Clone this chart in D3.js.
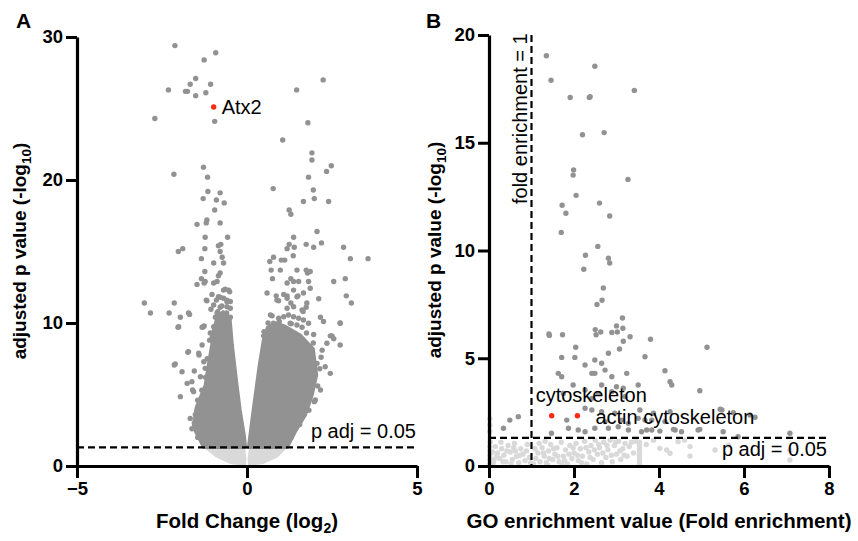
<!DOCTYPE html>
<html>
<head>
<meta charset="utf-8">
<script src="https://cdn.jsdelivr.net/npm/d3@7"></script>
<style>
  body { margin: 0; background: #fff; }
  svg text { font-family: "Liberation Sans", Arial, Helvetica, sans-serif; }
</style>
</head>
<body>
<div id="chart"></div>
<script>
// ---- panel A: volcano plot (fold change log2, -log10 adj p) ----
var volcanoTicksX = [-5, 0, 5];
var volcanoTicksY = [0, 10, 20, 30];

// individual significant proteins
var volcanoPoints = [
  [-2.12,29.4],[-0.92,28.9],[-1.26,28.4],[-1.51,27.1],[-1.67,26.7],[-1.07,26.7],[-2.31,26.3],[-1.81,26.2],[-1.75,26.2],[-1.21,26.1],[-1.51,25.9],[-2.71,24.3],[-0.95,24.1],
  [2.24,27.0],[1.46,26.3],[1.79,24.0],[1.05,22.8],[1.91,21.9],[1.91,21.4],[2.48,21.0],[2.34,20.6],[1.81,20.2],
  [-1.28,20.9],[-2.15,20.4],[-1.16,20.2],
  [0.77,19.4],[1.95,19.3],[1.98,18.7],[1.66,18.5],[2.40,18.5],[1.24,17.9],[1.29,17.6],[2.06,16.4],[1.37,16.0],[1.74,15.5],[1.96,15.3],[2.19,15.6],[1.24,15.5],[1.18,15.2],[1.39,15.3],[2.84,15.3],[3.04,14.5],[3.56,14.5],[0.78,14.6],[0.67,14.3],[1.01,14.4],[1.11,14.4],[1.36,14.7],
  [0.71,13.7],[0.98,13.7],[1.47,13.7],[1.74,13.7],[1.78,13.5],[1.86,13.6],[2.55,12.9],[2.89,13.1],[1.18,12.8],[1.29,13.1],[1.37,12.9],[1.52,12.9],[1.81,12.9],[0.75,13.1],
  [0.59,12.1],[0.86,11.9],[1.08,12.0],[1.18,11.9],[1.37,12.3],[1.50,11.9],[1.66,12.1],[0.88,11.6],[2.11,11.7],[2.92,11.9],[3.07,11.4],[1.76,11.4],[1.74,11.1],[1.65,10.8],[1.29,11.4],
  [2.16,10.4],[2.25,10.1],[2.74,10.0],[2.45,9.1],[2.55,8.9],[1.96,9.2],[1.62,9.7],[1.65,8.7],[0.74,10.5],[0.83,9.9],[0.71,9.1],[0.49,9.1],
  [0.93,11.56],[1.18,11.73],[1.47,11.84],[1.86,12.43],[1.62,10.91],[1.18,11.03],[1.37,11.14],[0.69,10.56],[0.78,9.98],[0.93,10.33],[1.08,10.44],[1.22,10.56],[1.37,10.44],[1.52,10.33],[1.66,10.21],[1.27,9.98],[1.47,9.86],[1.81,9.98],
  [-1.29,18.7],[-1.15,19.2],[-0.79,19.1],[-0.90,18.6],[-0.67,18.4],[-0.95,17.9],[-1.18,17.2],[-1.20,17.0],[-0.79,17.0],[-1.47,16.9],[-0.57,16.0],[-1.23,16.0],[-0.84,15.4],[-0.77,15.5],[-1.24,15.2],[-2.02,15.0],[-1.89,15.2],[-1.34,14.5],[-0.98,14.2],[-0.73,14.6],[-0.69,14.2],[-0.79,15.0],
  [-1.24,13.6],[-0.79,13.5],[-0.84,13.3],[-1.34,13.1],[-1.23,12.9],[-1.47,12.7],[-1.26,12.8],[-0.88,12.9],[-0.98,12.8],
  [-0.54,12.3],[-0.69,12.3],[-0.79,11.8],[-1.03,12.0],[-1.20,11.6],[-0.90,11.6],[-0.59,11.6],[-0.49,11.5],
  [-3.02,11.4],[-2.84,10.7],[-2.14,11.4],[-2.29,10.7],[-1.96,10.4],[-1.72,10.7],[-1.69,10.6],[-2.03,9.7],[-1.32,9.7],[-1.26,9.8],[-1.02,9.0],[-0.79,11.1],[-0.88,10.7],
  [-0.64,12.36],[-0.51,12.19],[-0.84,11.84],[-0.69,11.73],[-0.59,11.49],[-1.18,11.56],[-0.98,11.26],[-0.74,11.19],[-0.59,11.14],[-0.49,11.03],[-1.06,10.96],[-0.86,10.79],[-0.74,10.56],[-0.64,10.44],[-0.49,10.4],[-0.84,10.26],[-0.59,10.09],[-1.28,9.74],[-0.98,9.74],
  [-1.74,7.95],[-1.41,7.76],[-1.27,7.29],[-2.14,7.06],[-1.91,6.59],[-1.55,6.64],[-1.96,4.85],[-1.76,5.78],[-1.60,5.31],[-1.37,6.24],
  [-2.01,9.74],[-1.72,8.0],[-2.11,7.13],[-1.42,7.88],[-1.62,5.9],[-1.32,8.46],[-1.57,5.2],[-1.67,3.33],[-1.37,2.98],[-1.47,3.9],[-1.23,6.83],[-1.08,5.55],[-1.18,4.85],[-1.32,4.38],
  [2.74,9.98],[2.50,9.1],[2.74,8.46],[2.35,8.58],[2.21,8.1],[2.06,7.18],[2.45,6.48],[2.30,6.94],[2.16,5.31],[2.01,4.62],[1.91,7.88],[1.76,6.71],[1.66,6.0],[1.47,5.08],[1.18,3.22],[1.13,3.4],[1.66,4.03],
  // ragged edges of the dense cores
  [-1.45,2.0],[-1.62,2.6],[-1.55,3.0],[-1.52,3.6],[-1.45,4.6],[-1.33,5.3],[-1.22,6.2],[-1.17,7.5],[-1.1,8.8],[-1.08,9.3],[-0.93,10.4],[-0.6,10.7],
  [1.3,2.0],[1.55,2.9],[1.82,3.9],[1.98,4.5],[2.08,5.6],[2.14,6.8],[2.18,7.6],[1.95,8.6],[1.75,9.3],[1.3,9.95],[0.95,10.1],[0.62,10.0],[0.5,9.4]
];

// outlines of the solid, over-plotted cores (significant, dark)
var volcanoCoreLeft = [[-1.28,1.3],[-1.58,2.73],[-1.49,4.13],[-1.23,5.66],[-1.14,7.06],[-1.04,8.46],[-0.99,9.51],[-0.88,10.4],[-0.7,10.8],
  [-0.5,10.4],[-0.43,8.46],[-0.31,6.01],[-0.20,3.92],[-0.08,2.17],[-0.04,1.3]];
var volcanoCoreRight = [[0.04,1.3],[0.13,3.0],[0.24,4.97],[0.36,7.06],[0.48,8.81],[0.6,9.7],[0.85,10.0],
  [1.1,9.8],[1.57,9.16],[1.95,8.2],[2.05,6.36],[1.92,4.97],[1.72,3.57],[1.42,2.38],[1.19,1.3]];
// non-significant bowl under the threshold (light)
var volcanoBowlLeft = [[-1.28,1.3],[-0.93,0.63],[-0.49,0.14],[-0.03,0],[-0.02,0.55],[-0.06,1.3]];
var volcanoBowlRight = [[0.06,1.3],[0.02,0.55],[0.03,0],[0.48,0.14],[0.92,0.63],[1.19,1.3]];

var volcanoHighlight = [[-0.98, 25.1]];
var volcanoHighlightLabels = ["Atx2"];

// ---- panel B: GO enrichment ----
var goTicksX = [0, 2, 4, 6, 8];
var goTicksY = [0, 5, 10, 15, 20];

var goDark = [
  [1.35,19.04],[2.49,18.55],[1.46,17.9],[3.42,17.43],[1.91,17.1],[2.36,17.1],[2.38,17.14],[2.20,15.37],[2.71,15.47],[1.99,13.74],[1.98,13.5],[3.27,13.3],
  [2.05,12.56],[1.72,12.1],[2.60,12.2],[1.81,11.73],[2.84,11.6],[1.70,10.84],[2.56,10.19],[2.27,9.78],[2.81,9.64],[2.84,9.42],[2.23,9.13],[2.69,8.26],[2.66,7.69],[2.54,7.5],
  [3.14,6.87],[3.00,6.5],[3.15,6.39],[2.50,6.33],[2.63,6.22],[2.89,6.2],[3.02,6.22],[2.52,6.09],[1.41,6.13],[1.42,6.06],[1.73,6.09],[3.32,6.0],[3.16,5.79],[3.80,5.88],[2.04,5.51],[3.07,5.43],[5.13,5.51],
  [1.71,5.04],[2.02,5.04],[2.26,4.69],[2.49,4.92],[2.81,5.23],[2.65,4.77],[3.67,5.07],[1.63,4.3],[1.71,4.14],[2.42,4.3],[2.49,4.3],[2.73,4.45],[2.89,4.14],[3.24,4.3],[4.14,4.42],[4.26,3.91],[4.30,3.76],
  [1.98,3.76],[2.26,3.53],[2.65,3.76],[3.0,3.68],[3.16,3.61],[3.51,3.76],[4.96,3.49],[1.75,3.37],[2.42,3.14],[2.57,3.37],[2.89,3.45],[3.2,3.22],
  [0.69,2.29],[0.49,2.13],[0.34,1.75],[1.83,2.13],[2.26,2.68],[2.42,2.6],[2.65,2.52],[2.73,2.06],[2.96,2.45],[3.12,2.13],[3.28,1.98],[3.51,2.21],[3.67,2.13],[3.83,2.13],[4.14,2.06],
  [1.47,1.52],[1.87,1.75],[2.10,1.67],[2.26,1.59],[2.49,1.75],[2.81,1.75],[3.04,1.82],[3.28,1.67],[3.59,1.59],[3.83,1.67],[4.38,1.67],[4.92,1.67],[5.48,2.6],
  [5.44,2.63],[5.75,2.47],[6.14,2.37],[6.26,2.26],[3.55,2.6],[3.87,2.45],[4.26,2.52],[3.71,1.67],[4.02,1.62],[4.34,1.7],[4.53,1.59],[4.96,1.7],[5.51,1.59],[7.08,1.52],[5.86,1.36]
];

var goLight = [
  [0.02,0.1],[0.02,0.3],[0.02,0.5],[0.02,0.7],[0.02,0.9],[0.03,1.1],[0.02,1.6],[0.02,1.9],[0.02,2.2],
  [0.15,0.9],[0.2,0.6],[0.25,0.35],[0.3,0.8],[0.35,0.5],[0.4,0.2],[0.45,0.95],[0.5,0.65],[0.55,0.3],[0.6,1.05],[0.65,0.45],[0.7,0.15],[0.75,0.8],[0.8,0.55],[0.85,0.25],[0.9,1.0],[0.95,0.4],[0.12,0.3],[0.28,1.1],[0.62,0.7],
  [0.1,0.15],[0.18,0.45],[0.33,0.2],[0.42,0.7],[0.52,0.1],[0.58,0.85],[0.72,0.5],[0.88,0.7],[0.98,0.15],[0.08,0.65],
  [1.05,0.1],[1.1,0.35],[1.15,0.6],[1.2,0.2],[1.25,0.85],[1.3,0.45],[1.35,0.15],[1.4,0.7],[1.45,1.0],[1.5,0.3],[1.55,0.55],[1.6,0.85],[1.65,0.2],[1.7,1.1],[1.75,0.45],[1.8,0.75],[1.85,0.1],[1.9,0.95],[1.95,0.35],[2.0,0.6],[1.38,0.05],[1.72,0.05],
  [1.08,0.8],[1.18,1.05],[1.28,0.6],[1.42,0.35],[1.52,0.8],[1.62,0.45],[1.78,0.25],[1.88,0.55],[1.98,0.85],[1.32,1.15],
  [2.05,1.05],[2.1,0.25],[2.15,0.8],[2.2,0.45],[2.25,1.15],[2.3,0.1],[2.35,0.65],[2.4,0.95],[2.45,0.3],[2.5,1.2],[2.55,0.55],[2.6,0.85],[2.65,0.15],[2.7,1.1],[2.75,0.4],[2.8,0.75],[2.85,1.2],[2.9,0.2],[2.95,0.95],[3.0,0.55],[3.05,1.15],[3.1,0.3],[3.15,0.8],[3.2,1.05],[3.25,0.45],[3.3,0.9],[3.4,0.6],[3.45,1.15],
  [2.08,0.5],[2.18,0.15],[2.28,0.85],[2.38,0.4],[2.48,0.75],[2.58,1.0],[2.68,0.6],[2.78,0.95],[2.88,0.5],[2.98,1.1],[3.08,0.7],[3.18,0.5],[3.35,1.1],
  [3.54,0.05],[3.54,0.2],[3.54,0.35],[3.54,0.5],[3.54,0.65],[3.54,0.8],[3.54,0.95],[3.54,1.1],
  [3.7,1.0],[3.87,1.2],[4.02,0.82],[4.18,0.74],[4.26,0.59],[4.45,1.13],[4.73,0.9],[4.73,0.46],[5.32,0.74],[5.63,0.97],[7.08,0.74],[7.08,0.28],[4.6,1.2]
];

var goHighlight = [[1.475, 2.33], [2.08, 2.33]];
var goHighlightLabels = ["cytoskeleton", "actin cytoskeleton"];

var pAdjCut = -Math.log10(0.05);
var foldCut = 1;

var svg = d3.select("#chart").append("svg")
  .attr("width", 858)
  .attr("height", 541);

var darkGrey = "#929292";
var lightGrey = "#d9d9d9";
var red = "#ff2a14";
var dotR = 2.7;

function styleAxis(g) {
  g.select(".domain").attr("stroke", "black").attr("stroke-width", 3.2);
  g.selectAll(".tick line").attr("stroke", "black").attr("stroke-width", 3);
  g.selectAll(".tick text")
    .attr("fill", "black")
    .style("font-size", "18.5px")
    .style("font-weight", "bold");
}

// ================= panel A =================
var xA = d3.scaleLinear().domain([-5, 5]).range([77, 417]);
var yA = d3.scaleLinear().domain([0, 30]).range([466, 37]);
var gA = svg.append("g");

var lineA = d3.line().x(function (d) { return xA(d[0]); }).y(function (d) { return yA(d[1]); });

[volcanoBowlLeft, volcanoBowlRight].forEach(function (poly) {
  gA.append("path").attr("d", lineA(poly) + "Z").attr("fill", lightGrey);
});
[volcanoCoreLeft, volcanoCoreRight].forEach(function (poly) {
  gA.append("path").attr("d", lineA(poly) + "Z").attr("fill", darkGrey)
    .attr("stroke", darkGrey).attr("stroke-width", 3).attr("stroke-linejoin", "round");
});

gA.selectAll(".vdot")
  .data(volcanoPoints)
  .enter()
  .append("circle")
  .attr("cx", function (d) { return xA(d[0]); })
  .attr("cy", function (d) { return yA(d[1]); })
  .attr("r", dotR)
  .attr("fill", darkGrey);

gA.selectAll(".vhi")
  .data(volcanoHighlight)
  .enter()
  .append("circle")
  .attr("cx", function (d) { return xA(d[0]); })
  .attr("cy", function (d) { return yA(d[1]); })
  .attr("r", dotR)
  .attr("fill", red);

gA.selectAll(".vlab")
  .data(volcanoHighlight)
  .enter()
  .append("text")
  .attr("x", function (d) { return xA(d[0]) + 8; })
  .attr("y", function (d) { return yA(d[1]) + 7; })
  .style("font-size", "20px")
  .text(function (d, i) { return volcanoHighlightLabels[i]; });

// threshold
gA.append("line")
  .attr("x1", xA(-5)).attr("x2", xA(5))
  .attr("y1", yA(pAdjCut)).attr("y2", yA(pAdjCut))
  .attr("stroke", "black").attr("stroke-width", 2.2)
  .attr("stroke-dasharray", "7,4");
gA.append("text")
  .attr("x", xA(5) - 1).attr("y", yA(pAdjCut) - 9)
  .attr("text-anchor", "end")
  .style("font-size", "20px")
  .text("p adj = 0.05");

var axA_x = gA.append("g").attr("transform", "translate(0,466)")
  .call(d3.axisBottom(xA).tickValues(volcanoTicksX).tickSize(12).tickSizeOuter(0).tickPadding(4));
styleAxis(axA_x);
var axA_y = gA.append("g").attr("transform", "translate(77,0)")
  .call(d3.axisLeft(yA).tickValues(volcanoTicksY).tickSize(11).tickSizeOuter(0).tickPadding(3));
styleAxis(axA_y);

var tA = gA.append("text")
  .attr("x", 247).attr("y", 528)
  .attr("text-anchor", "middle")
  .style("font-size", "20.5px").style("font-weight", "bold");
tA.append("tspan").text("Fold Change (log");
tA.append("tspan").attr("dy", 5).style("font-size", "14px").text("2");
tA.append("tspan").attr("dy", -5).text(")");

var yTitleA = gA.append("text")
  .attr("transform", "translate(26,251) rotate(-90)")
  .attr("text-anchor", "middle")
  .style("font-size", "19px").style("font-weight", "bold");
yTitleA.append("tspan").text("adjusted p value (-log");
yTitleA.append("tspan").attr("dy", 5).style("font-size", "13.5px").text("10");
yTitleA.append("tspan").attr("dy", -5).text(")");

svg.append("text").attr("x", 16).attr("y", 28)
  .style("font-size", "21px").style("font-weight", "bold").text("A");

// ================= panel B =================
var xB = d3.scaleLinear().domain([0, 8]).range([489, 829]);
var yB = d3.scaleLinear().domain([0, 20]).range([466, 35]);
var gB = svg.append("g");

gB.selectAll(".glight")
  .data(goLight)
  .enter()
  .append("circle")
  .attr("cx", function (d) { return xB(d[0]); })
  .attr("cy", function (d) { return yB(d[1]); })
  .attr("r", dotR)
  .attr("fill", lightGrey);

gB.selectAll(".gdark")
  .data(goDark)
  .enter()
  .append("circle")
  .attr("cx", function (d) { return xB(d[0]); })
  .attr("cy", function (d) { return yB(d[1]); })
  .attr("r", dotR)
  .attr("fill", darkGrey);

gB.selectAll(".ghi")
  .data(goHighlight)
  .enter()
  .append("circle")
  .attr("cx", function (d) { return xB(d[0]); })
  .attr("cy", function (d) { return yB(d[1]); })
  .attr("r", dotR)
  .attr("fill", red);

// label offsets: first label sits above-left, second to the right
var goLabelDx = [-16, 18];
var goLabelDy = [-14, 8];
gB.selectAll(".glab")
  .data(goHighlight)
  .enter()
  .append("text")
  .attr("x", function (d, i) { return xB(d[0]) + goLabelDx[i]; })
  .attr("y", function (d, i) { return yB(d[1]) + goLabelDy[i]; })
  .style("font-size", "20px")
  .text(function (d, i) { return goHighlightLabels[i]; });

gB.append("line")
  .attr("x1", xB(0)).attr("x2", xB(8))
  .attr("y1", yB(pAdjCut)).attr("y2", yB(pAdjCut))
  .attr("stroke", "black").attr("stroke-width", 2.2)
  .attr("stroke-dasharray", "7,4");
gB.append("line")
  .attr("x1", xB(foldCut)).attr("x2", xB(foldCut))
  .attr("y1", yB(20)).attr("y2", yB(0))
  .attr("stroke", "black").attr("stroke-width", 2.2)
  .attr("stroke-dasharray", "7,4");

gB.append("text")
  .attr("x", xB(8) - 2).attr("y", yB(pAdjCut) + 18)
  .attr("text-anchor", "end")
  .style("font-size", "20px")
  .text("p adj = 0.05");
gB.append("text")
  .attr("transform", "translate(" + (xB(foldCut) - 5) + ",204) rotate(-90)")
  .style("font-size", "20px")
  .text("fold enrichment = 1");

var axB_x = gB.append("g").attr("transform", "translate(0,466)")
  .call(d3.axisBottom(xB).tickValues(goTicksX).tickSize(12).tickSizeOuter(0).tickPadding(4));
styleAxis(axB_x);
var axB_y = gB.append("g").attr("transform", "translate(489,0)")
  .call(d3.axisLeft(yB).tickValues(goTicksY).tickSize(11).tickSizeOuter(0).tickPadding(3));
styleAxis(axB_y);

gB.append("text")
  .attr("x", 659).attr("y", 528)
  .attr("text-anchor", "middle")
  .style("font-size", "20.5px").style("font-weight", "bold")
  .text("GO enrichment value (Fold enrichment)");

var yTitleB = gB.append("text")
  .attr("transform", "translate(441,250) rotate(-90)")
  .attr("text-anchor", "middle")
  .style("font-size", "19px").style("font-weight", "bold");
yTitleB.append("tspan").text("adjusted p value (-log");
yTitleB.append("tspan").attr("dy", 5).style("font-size", "13.5px").text("10");
yTitleB.append("tspan").attr("dy", -5).text(")");

svg.append("text").attr("x", 426).attr("y", 28)
  .style("font-size", "21px").style("font-weight", "bold").text("B");
</script>
</body>
</html>
